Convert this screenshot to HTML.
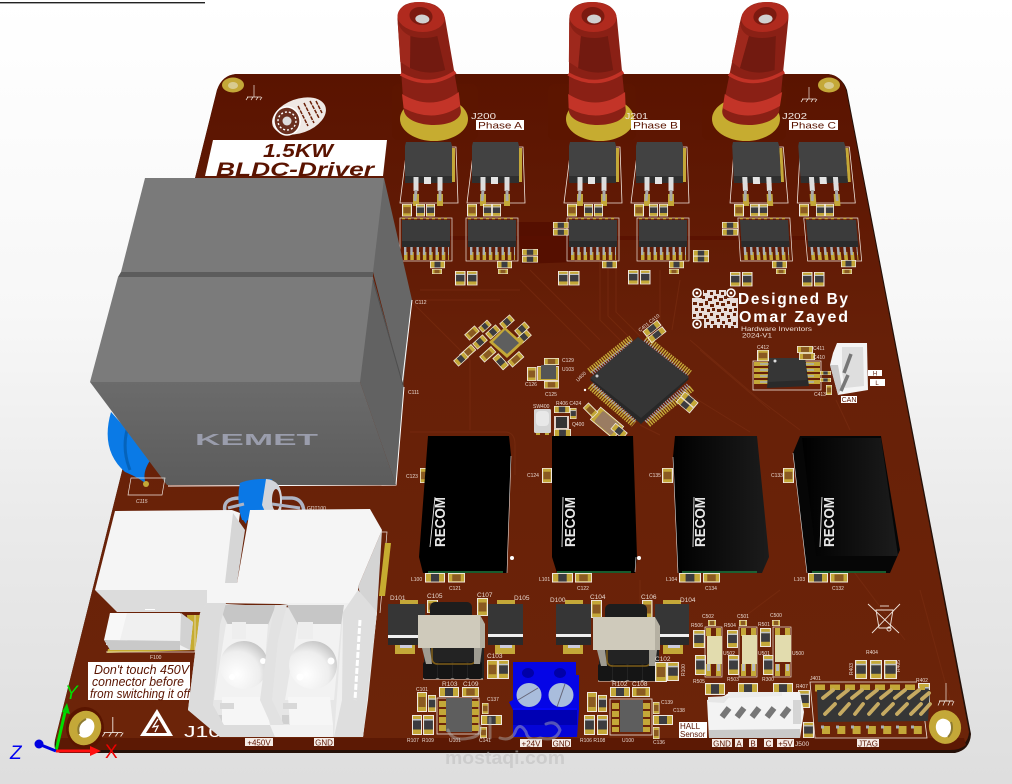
<!DOCTYPE html>
<html><head><meta charset="utf-8"><style>
html,body{margin:0;padding:0;background:#f4f4f4}
svg{display:block}
text{font-family:"Liberation Sans",sans-serif}
.s{fill:#e8d8d0;font-size:5px}
.m{fill:#e8d8d0;font-size:6.5px}
.l{fill:#5a1400;font-size:8px;text-anchor:middle}
</style></head><body>
<svg xmlns="http://www.w3.org/2000/svg" width="1012" height="784" viewBox="0 0 1012 784">
<defs>
<linearGradient id="bg" x1="0" y1="0" x2="0" y2="1"><stop offset="0" stop-color="#fff"/><stop offset=".4" stop-color="#f7f7f7"/><stop offset=".65" stop-color="#ebebeb"/><stop offset="1" stop-color="#dedede"/></linearGradient>
<linearGradient id="pcb" x1="0" y1="0" x2="0" y2="1"><stop offset="0" stop-color="#5a1300"/><stop offset=".4" stop-color="#672008"/><stop offset="1" stop-color="#6c2409"/></linearGradient>
<linearGradient id="kf" x1="0" y1="0" x2="0" y2="1"><stop offset="0" stop-color="#6b6b6b"/><stop offset="1" stop-color="#5c5c5c"/></linearGradient>
<linearGradient id="rec" x1="0" y1="0" x2="1" y2="0"><stop offset="0" stop-color="#000"/><stop offset="1" stop-color="#1c1c1c"/></linearGradient>
<radialGradient id="sph" cx=".35" cy=".7" r=".8"><stop offset="0" stop-color="#fff"/><stop offset=".6" stop-color="#eee"/><stop offset="1" stop-color="#bdbdbd"/></radialGradient>

<g id="r"><rect x="0" y="0" width="10" height="20" fill="#f0e8e0"/><rect x="1" y="1" width="8" height="18" fill="#c4a838"/><rect x="1" y="5.5" width="8" height="9" fill="#3c3c40"/><rect x="1" y="4" width="8" height="1.5" fill="#bfc4cc"/></g>
<g id="c"><rect x="0" y="0" width="10" height="20" fill="#f0e8e0"/><rect x="1" y="1" width="8" height="18" fill="#c4a838"/><rect x="1.5" y="5" width="7" height="10" fill="#8a5a22"/></g>
<g id="h"><rect x="0" y="0" width="20" height="10" fill="#f0e8e0"/><rect x="1" y="1" width="18" height="8" fill="#c4a838"/><rect x="6" y="1" width="8" height="8" fill="#3c3c40"/></g>
<g id="hc"><rect x="0" y="0" width="20" height="10" fill="#f0e8e0"/><rect x="1" y="1" width="18" height="8" fill="#c4a838"/><rect x="5" y="1.5" width="10" height="7" fill="#8a5a22"/></g>

<g id="post">
<path d="M-24,6 Q-24,-14 0,-14 Q24,-14 24,6 L29,94 C29,114 -28,114 -28,94 Z" fill="#8a2015"/>
<path d="M-13,20 Q0,24 14,20 L18,54 Q0,60 -17,52 Z" fill="#721a10"/>
<path d="M-24,6 Q-22,16 -13,20 L-17,52 L-26,46 Z" fill="#9e281c"/>
<path d="M-27,58 Q0,74 28,56" fill="none" stroke="#c23226" stroke-width="3.5"/>
<path d="M-28,78 Q0,96 29,76 L29,90 Q0,108 -28,92 Z" fill="#c33428"/>
<ellipse cx="0" cy="1" rx="23.5" ry="15" fill="#b02a1e"/>
<ellipse cx="0" cy="0" rx="11.5" ry="9" fill="#7c1a10"/>
<ellipse cx="1" cy="3" rx="7" ry="4.5" fill="#d0d0d0"/>
</g>

<g id="fet">
<polygon points="2,5 51,5 53,61 -5,61" fill="none" stroke="#efe4dc" stroke-width=".8"/>
<rect x="47" y="6" width="3" height="34" fill="#c4a838"/>
<rect x="8" y="52" width="6" height="12" fill="#c4a838"/><rect x="32" y="52" width="6" height="12" fill="#c4a838"/>
<rect x="8.5" y="41" width="5" height="8" fill="#ddd"/><rect x="32.5" y="41" width="5" height="8" fill="#ddd"/>
<path d="M11,48 L10,59 M35,48 L35,59" stroke="#aaa" stroke-width="3"/>
<path d="M1,0 H46 L47,4 V41 H0 V4 Z" fill="#424242"/>
<rect x="0" y="34" width="47" height="7" fill="#2f2f2f"/>
<rect x="8.5" y="35" width="5" height="7" fill="#ddd"/><rect x="19" y="35" width="7" height="7" fill="#e4e4e4"/><rect x="32.5" y="35" width="5" height="7" fill="#ddd"/>
</g>

<g id="so">
<rect x="-2" y="-2" width="52" height="43" fill="none" stroke="#efe4dc" stroke-width=".7"/>
<path d="M0,-1.5 H48" stroke="#c4a838" stroke-width="1.5" stroke-dasharray="3 3"/>
<path d="M2,36 H47" stroke="#c4a838" stroke-width="8" stroke-dasharray="3.5 2.8"/>
<path d="M2,31 H47" stroke="#a8b0b8" stroke-width="8" stroke-dasharray="2.4 3.9"/>
<rect x="0" y="0" width="48" height="27" fill="#3b3b3b"/>
<rect x="0" y="21" width="48" height="6" fill="#2b2b2b"/>
</g>

<g id="ind">
<rect x="12" y="0" width="42" height="18" rx="5" fill="#1d1d1d"/>
<rect x="6" y="44" width="60" height="33" fill="#232323"/>
<path d="M5,77 H65" stroke="#e8e0d8" stroke-width="1"/>
<rect x="5" y="60" width="14" height="17" rx="2" fill="#151515"/><rect x="20" y="60" width="14" height="17" rx="2" fill="#151515"/><rect x="35" y="60" width="14" height="17" rx="2" fill="#151515"/><rect x="50" y="60" width="14" height="17" rx="2" fill="#151515"/>
<path d="M14,46 V56 Q14,62 20,62 H52 Q58,62 58,55 V46" fill="none" stroke="#7c5c18" stroke-width="1.6"/>
<polygon points="4,46 12,46 14,62 8,62" fill="#9f9c92"/><polygon points="56,46 64,46 62,62 56,62" fill="#9f9c92"/>
<rect x="0" y="13" width="62" height="33" fill="#cfcabb"/>
<polygon points="62,13 67,22 67,46 62,46" fill="#b5b0a2"/>
</g>

<g id="gnd"><path d="M6,0 V12 M-1,12 H13 M0,12 L-2,15 M5,12 L3,15 M10,12 L8,15 M14,12 L12,15" stroke="#efe4dc" stroke-width=".7" fill="none"/></g>
</defs>

<rect width="1012" height="784" fill="url(#bg)"/>
<rect x="0" y="2" width="205" height="1.4" fill="#222"/>

<!-- Board -->
<path d="M60,753 L955,753 Q970,750 971,734 L847,90 Q842,76 828,74 L236,74 Q222,76 217,90 L55,740 Q53,752 60,753 Z" fill="#241008"/>
<path d="M62,749 L953,749 Q968,746 969,732 L846,90 Q841,75 828,74 L236,74 Q222,75 217,90 L56,736 Q54,749 62,749 Z" fill="url(#pcb)"/>
<path d="M60,738 L964,738 L966,745 Q960,750 950,750 L58,750 Z" fill="#5c1904"/>

<g fill="#5c1500" opacity=".9">
<rect x="392" y="84" width="86" height="56" rx="6"/><rect x="548" y="84" width="88" height="56" rx="6"/><rect x="702" y="84" width="84" height="56" rx="6"/>
</g>
<polygon points="517,222 575,222 575,262 522,264" fill="#550f00"/>
<rect x="402" y="236" width="455" height="4" fill="#5a1000" opacity=".75"/>

<g fill="none" stroke="#7b2e12" stroke-width="1" opacity=".6">
<path d="M410,432 H505 Q515,432 515,445 V475"/>
<path d="M410,300 L470,360 L470,430"/>
<path d="M520,280 L590,350"/><path d="M530,270 L600,340"/>
<path d="M600,240 V320 L625,345"/><path d="M608,240 V316 L632,340"/><path d="M616,240 V312 L640,336"/>
<path d="M660,270 V320"/><path d="M680,280 L672,330"/><path d="M690,340 L760,400 L800,430"/><path d="M700,350 L770,410"/>
<path d="M640,425 L660,435"/><path d="M690,395 L750,432"/>
<path d="M420,290 H520"/><path d="M415,300 H500"/>
<path d="M640,580 L640,610 L660,625"/><path d="M780,590 L740,620"/><path d="M845,560 L905,640"/>
<path d="M836,400 L850,430"/><path d="M920,590 L950,700"/>
</g>

<!-- Mount holes -->
<ellipse cx="233" cy="85" rx="11" ry="7.5" fill="#c4a838"/><ellipse cx="233" cy="85.500" rx="5" ry="3.500" fill="#d8cb90"/>
<ellipse cx="829" cy="85" rx="11" ry="7.500" fill="#c4a838"/><ellipse cx="829" cy="85.500" rx="5" ry="3.500" fill="#d8cb90"/>
<ellipse cx="85" cy="728" rx="19" ry="21" fill="#5a1500"/>
<ellipse cx="85" cy="728" rx="16" ry="17.500" fill="#c4a838" transform="rotate(25 85 728)"/><ellipse cx="86" cy="728" rx="8" ry="10" fill="#fff" transform="rotate(25 86 728)"/><path d="M79,734 Q76,724 86,719" stroke="#8d7a30" stroke-width="2" fill="none"/>
<ellipse cx="945" cy="727" rx="16" ry="17" fill="#c4a838" transform="rotate(-20 945 727)"/><ellipse cx="944" cy="728" rx="8" ry="9.500" fill="#fff" transform="rotate(-20 944 728)"/><path d="M951,722 Q954,731 948,737" stroke="#8d7a30" stroke-width="2" fill="none"/>

<use href="#gnd" x="248" y="85"/><use href="#gnd" x="803" y="87"/><use href="#gnd" transform="translate(105 717) scale(1.3)"/><use href="#gnd" transform="translate(940 683) scale(1 1.5)"/>

<ellipse cx="434" cy="119" rx="34" ry="22" fill="#c6ac30"/>
<ellipse cx="600" cy="119" rx="34" ry="22" fill="#c6ac30"/>
<ellipse cx="746" cy="119" rx="34" ry="22" fill="#c6ac30"/>

<!-- Logo -->
<g>
<ellipse cx="299" cy="116" rx="28" ry="17" fill="#efe8e4" transform="rotate(-20 299 116)"/>
<ellipse cx="287" cy="121" rx="13" ry="14" fill="#6a3020" stroke="#fff" stroke-width="1.5" transform="rotate(-10 287 121)"/>
<circle cx="287" cy="121" r="4.500" fill="#ddd"/>
<g stroke="#fff" stroke-width="1.400" stroke-dasharray="2 2" fill="none"><circle cx="287" cy="121" r="9"/></g>
<path d="M298,106 L308,126 M304,103 L314,123 M310,101 L319,118 M316,101 L322,113" stroke="#6a2008" stroke-width="1.500" stroke-dasharray="4 1"/>
</g>

<polygon points="213,140 387,140 383,176 205,176" fill="#fff"/>
<text x="298" y="157" font-size="18" font-weight="bold" font-style="italic" text-anchor="middle" fill="#5a1300" textLength="70" lengthAdjust="spacingAndGlyphs">1.5KW</text>
<text x="295" y="176" font-size="19" font-weight="bold" font-style="italic" text-anchor="middle" fill="#5a1300" textLength="158" lengthAdjust="spacingAndGlyphs">BLDC-Driver</text>

<text x="471" y="119" font-size="8.500" fill="#f0e6e0" textLength="25" lengthAdjust="spacingAndGlyphs">J200</text>
<rect x="476" y="120" width="48" height="10" fill="#fff"/><text x="500" y="128.500" class="l" style="font-size:9.500px" textLength="44" lengthAdjust="spacingAndGlyphs">Phase A</text>
<text x="625" y="119" font-size="8.500" fill="#f0e6e0" textLength="23" lengthAdjust="spacingAndGlyphs">J201</text>
<rect x="631" y="120" width="49" height="10" fill="#fff"/><text x="655.500" y="128.500" class="l" style="font-size:9.500px" textLength="45" lengthAdjust="spacingAndGlyphs">Phase B</text>
<text x="782" y="119" font-size="8.500" fill="#f0e6e0" textLength="25" lengthAdjust="spacingAndGlyphs">J202</text>
<rect x="789" y="120" width="49" height="10" fill="#fff"/><text x="813.500" y="128.500" class="l" style="font-size:9.500px" textLength="45" lengthAdjust="spacingAndGlyphs">Phase C</text>

<use href="#fet" transform="translate(405 142)"/>
<use href="#fet" transform="translate(472 142)"/>
<use href="#fet" transform="translate(569 142)"/>
<use href="#fet" transform="translate(636 142)"/>
<use href="#fet" transform="translate(732 142) matrix(1 0 .05 1 0 0)"/>
<use href="#fet" transform="translate(798 142) matrix(1 0 .07 1 0 0)"/>

<use href="#c" transform="translate(402 204) scale(1 .62)"/><use href="#r" transform="translate(416 204) scale(.9 .62)"/><use href="#r" transform="translate(426 204) scale(.9 .62)"/>
<use href="#c" transform="translate(467 204) scale(1 .62)"/><use href="#r" transform="translate(483 204) scale(.9 .62)"/><use href="#r" transform="translate(492 204) scale(.9 .62)"/>
<use href="#c" transform="translate(567 204) scale(1 .62)"/><use href="#r" transform="translate(584 204) scale(.9 .62)"/><use href="#r" transform="translate(594 204) scale(.9 .62)"/>
<use href="#c" transform="translate(634 204) scale(1 .62)"/><use href="#r" transform="translate(649 204) scale(.9 .62)"/><use href="#r" transform="translate(659 204) scale(.9 .62)"/>
<use href="#c" transform="translate(734 204) scale(1 .62)"/><use href="#r" transform="translate(750 204) scale(.9 .62)"/><use href="#r" transform="translate(759 204) scale(.9 .62)"/>
<use href="#c" transform="translate(799 204) scale(1 .62)"/><use href="#r" transform="translate(816 204) scale(.9 .62)"/><use href="#r" transform="translate(825 204) scale(.9 .62)"/>

<use href="#so" transform="translate(402 220)"/>
<use href="#so" transform="translate(468 220)"/>
<use href="#so" transform="translate(569 220)"/>
<use href="#so" transform="translate(639 220)"/>
<use href="#so" transform="translate(740 220) matrix(1 0 .06 1 0 0)"/>
<use href="#so" transform="translate(806 220) matrix(1.04 0 .09 1 0 0)"/>

<use href="#h" transform="translate(553 222) scale(.78 .65)"/><use href="#h" transform="translate(553 229) scale(.78 .65)"/>
<use href="#h" transform="translate(522 249) scale(.8 .65)"/><use href="#h" transform="translate(522 256) scale(.8 .65)"/>
<use href="#h" transform="translate(722 222) scale(.8 .65)"/><use href="#h" transform="translate(722 229) scale(.8 .65)"/>
<use href="#h" transform="translate(693 250) scale(.8 .62)"/><use href="#h" transform="translate(693 256) scale(.8 .62)"/>

<use href="#h" transform="translate(430 261) scale(.75 .72)"/><use href="#hc" transform="translate(432 269) scale(.5 .5)"/>
<use href="#h" transform="translate(497 261) scale(.75 .72)"/><use href="#hc" transform="translate(498 269) scale(.5 .5)"/>
<use href="#h" transform="translate(602 261) scale(.75 .72)"/>
<use href="#h" transform="translate(669 261) scale(.75 .72)"/><use href="#hc" transform="translate(669 269) scale(.5 .5)"/>
<use href="#h" transform="translate(772 261) scale(.75 .72)"/><use href="#hc" transform="translate(776 269) scale(.5 .5)"/>
<use href="#h" transform="translate(841 260) scale(.75 .72)"/><use href="#hc" transform="translate(842 269) scale(.5 .5)"/>
<use href="#r" transform="translate(455 271) scale(1.05 .72)"/><use href="#r" transform="translate(467 271) scale(1.05 .72)"/>
<use href="#r" transform="translate(558 271) scale(1.05 .72)"/><use href="#r" transform="translate(569 271) scale(1.05 .72)"/>
<use href="#r" transform="translate(628 270) scale(1.05 .72)"/><use href="#r" transform="translate(640 270) scale(1.05 .72)"/>
<use href="#r" transform="translate(730 272) scale(1.05 .72)"/><use href="#r" transform="translate(742 272) scale(1.05 .72)"/>
<use href="#r" transform="translate(802 272) scale(1.05 .72)"/><use href="#r" transform="translate(814 272) scale(1.05 .72)"/>

<text x="415" y="304" class="s">C112</text><text x="408" y="394" class="s">C111</text>
<text x="406" y="478" class="s">C123</text><text x="527" y="477" class="s">C124</text><text x="649" y="477" class="s">C135</text><text x="771" y="477" class="s">C133</text>

<!-- Small chip cluster -->
<g transform="rotate(-42 472 333)"><use href="#hc" transform="translate(465 329) scale(.7 .8)"/></g>
<g transform="rotate(-42 493 332)"><use href="#h" transform="translate(486 328) scale(.7 .8)"/></g>
<g transform="rotate(-42 486 326)"><use href="#h" transform="translate(479 322) scale(.6 .7)"/></g>
<g transform="rotate(-42 480 342)"><use href="#h" transform="translate(473 338) scale(.7 .8)"/></g>
<g transform="rotate(-42 467 353)"><use href="#hc" transform="translate(460 349) scale(.8 .8)"/></g>
<g transform="rotate(-42 461 359)"><use href="#h" transform="translate(454 355) scale(.7 .8)"/></g>
<g transform="rotate(-42 487 355)"><use href="#hc" transform="translate(480 351) scale(.8 .8)"/></g>
<g transform="rotate(48 500 361)"><use href="#h" transform="translate(493 357) scale(.8 .8)"/></g>
<g transform="rotate(-42 515 360)"><use href="#hc" transform="translate(508 356) scale(.8 .8)"/></g>
<g transform="rotate(-42 507 322)"><use href="#h" transform="translate(500 318) scale(.7 .8)"/></g>
<g transform="rotate(-42 522 329)"><use href="#h" transform="translate(515 325) scale(.7 .8)"/></g>
<g transform="rotate(-42 524 337)"><use href="#h" transform="translate(517 333) scale(.7 .8)"/></g>
<polygon points="505,327 523,343 507,358 489,342" fill="#c4a838"/>
<polygon points="505,330 519,343 507,354 493,342" fill="#5e5e5e"/>

<!-- U103 -->
<use href="#hc" transform="translate(544 358) scale(.75 .7)"/>
<use href="#hc" transform="translate(544 381) scale(.75 .75)"/>
<use href="#c" transform="translate(527 367) scale(.95 .7)"/>
<rect x="537" y="366" width="22" height="15" fill="#e8d8d0"/><rect x="538" y="367" width="20" height="13" fill="#c4a838"/><rect x="541" y="365" width="15" height="14" fill="#555"/>
<text x="562" y="362" class="s">C129</text><text x="562" y="371" class="s">U103</text><text x="525" y="386" class="s">C126</text><text x="545" y="396" class="s">C125</text>

<rect x="534" y="409" width="17" height="24" rx="1.500" fill="#d4d4d4"/><rect x="536" y="411" width="13" height="15" rx="4" fill="#e8e8e8"/><rect x="536" y="433" width="4" height="2" fill="#c4a838"/><rect x="545" y="433" width="4" height="2" fill="#c4a838"/>
<text x="533" y="408" class="s">SW400</text>
<use href="#h" transform="translate(554 406) scale(.8 .7)"/><rect x="554" y="416" width="15" height="13" fill="#e0d0c8"/><rect x="556" y="417" width="11" height="11" fill="#333"/>
<use href="#h" transform="translate(554 429) scale(.85 .8)"/><use href="#r" transform="translate(570 408) scale(.65 .55)"/>
<text x="556" y="405" class="s">R406 C424</text><text x="572" y="426" class="s">Q400</text>

<g transform="rotate(40 607 423)">
<rect x="592" y="415" width="30" height="16" fill="#c4a838" stroke="#f0e8e0" stroke-width=".8"/><rect x="596" y="416" width="22" height="14" rx="2" fill="#9a7c62"/>
</g>
<g transform="rotate(45 592 413)"><use href="#hc" transform="translate(582 408) scale(.7 .8)"/></g>
<g transform="rotate(40 620 433)"><use href="#h" transform="translate(610 428) scale(.8)"/></g>

<!-- MCU -->
<g fill="none">
<path d="M589,371 L631,338" stroke="#c4a838" stroke-width="6" stroke-dasharray="1.500 1"/>
<path d="M646,338 L690,373" stroke="#c4a838" stroke-width="6" stroke-dasharray="1.500 1"/>
<path d="M590,386 L634,424" stroke="#c4a838" stroke-width="7" stroke-dasharray="1.500 1"/>
<path d="M648,424 L692,388" stroke="#c4a838" stroke-width="7" stroke-dasharray="1.500 1"/>
<path d="M592,373 L633,341" stroke="#aab" stroke-width="4" stroke-dasharray="1 1.500"/>
<path d="M644,341 L687,376" stroke="#aab" stroke-width="4" stroke-dasharray="1 1.500"/>
<path d="M593,384 L636,421" stroke="#aab" stroke-width="5" stroke-dasharray="1 1.500"/>
<path d="M645,421 L689,385" stroke="#aab" stroke-width="5" stroke-dasharray="1 1.500"/>
</g>
<polygon points="638,337 689,379 641,424 590,380" fill="#282828"/>
<polygon points="638,337 689,377 641,418 590,378" fill="#353535"/>
<circle cx="597" cy="376" r="1.500" fill="#ccc"/><circle cx="585" cy="390" r="1.200" fill="#fff"/>
<g transform="rotate(-38 657 334)"><use href="#h" transform="translate(647 323) scale(.95 .7)"/><use href="#h" transform="translate(647 331) scale(.95 .7)"/></g>
<g transform="rotate(40 688 403)"><use href="#h" transform="translate(678 396) scale(.9 .7)"/><use href="#h" transform="translate(678 403) scale(.9 .7)"/></g>
<text x="640" y="332" class="s" transform="rotate(-38 640 332)">C401 C410</text>
<text x="578" y="382" class="s" transform="rotate(-45 578 382)">U400</text>

<!-- QR -->
<rect x="692" y="290" width="46" height="38" fill="#fff" opacity=".85"/>
<g fill="#632008">
<rect x="704" y="290" width="3" height="3"/><rect x="710" y="292" width="3" height="3"/><rect x="716" y="290" width="3" height="4"/><rect x="721" y="292" width="3" height="3"/>
<rect x="702" y="296" width="3" height="3"/><rect x="708" y="298" width="4" height="3"/><rect x="714" y="296" width="3" height="3"/><rect x="719" y="298" width="4" height="3"/><rect x="724" y="296" width="3" height="3"/>
<rect x="693" y="302" width="4" height="3"/><rect x="699" y="303" width="4" height="3"/><rect x="705" y="301" width="3" height="4"/><rect x="710" y="304" width="4" height="3"/><rect x="716" y="302" width="3" height="3"/><rect x="721" y="303" width="4" height="3"/><rect x="727" y="301" width="3" height="3"/><rect x="732" y="303" width="4" height="3"/>
<rect x="695" y="308" width="3" height="3"/><rect x="701" y="308" width="3" height="3"/><rect x="707" y="309" width="3" height="3"/><rect x="712" y="308" width="3" height="3"/><rect x="717" y="309" width="4" height="3"/><rect x="724" y="308" width="3" height="3"/><rect x="729" y="309" width="3" height="3"/><rect x="734" y="308" width="3" height="3"/>
<rect x="693" y="314" width="3" height="3"/><rect x="699" y="313" width="3" height="3"/><rect x="704" y="315" width="3" height="3"/><rect x="710" y="313" width="3" height="3"/><rect x="716" y="315" width="3" height="3"/><rect x="721" y="313" width="3" height="3"/><rect x="727" y="315" width="3" height="3"/><rect x="733" y="313" width="3" height="3"/>
<rect x="706" y="319" width="3" height="3"/><rect x="711" y="321" width="3" height="3"/><rect x="717" y="319" width="3" height="3"/><rect x="722" y="321" width="3" height="3"/><rect x="728" y="319" width="3" height="3"/><rect x="733" y="322" width="3" height="3"/>
<rect x="707" y="325" width="3" height="3"/><rect x="713" y="325" width="4" height="3"/><rect x="720" y="325" width="3" height="3"/><rect x="725" y="325" width="3" height="3"/><rect x="731" y="326" width="3" height="2"/>
</g>
<rect x="692" y="289" width="11" height="9" fill="#632008"/><circle cx="697" cy="293" r="4" fill="none" stroke="#fff" stroke-width="1.600"/><circle cx="697" cy="293" r="1.400" fill="#fff"/>
<rect x="726" y="289" width="12" height="9" fill="#632008"/><circle cx="731" cy="293" r="4" fill="none" stroke="#fff" stroke-width="1.600"/><circle cx="731" cy="293" r="1.400" fill="#fff"/>
<rect x="692" y="319" width="12" height="10" fill="#632008"/><circle cx="697" cy="324" r="4" fill="none" stroke="#fff" stroke-width="1.600"/><circle cx="697" cy="324" r="1.400" fill="#fff"/>

<text x="738" y="304" font-size="15.500" font-weight="bold" fill="#fff" textLength="110" lengthAdjust="spacing">Designed By</text>
<text x="739" y="322" font-size="16" font-weight="bold" fill="#fff" textLength="109" lengthAdjust="spacing">Omar Zayed</text>
<text x="741" y="331" font-size="6.500" fill="#efe0d8" textLength="71" lengthAdjust="spacingAndGlyphs">Hardware Inventors</text>
<text x="742" y="337.500" font-size="6.500" fill="#efe0d8" textLength="30" lengthAdjust="spacingAndGlyphs">2024-V1</text>

<!-- CAN chip -->
<rect x="753" y="361" width="68" height="29" fill="none" stroke="#efe4dc" stroke-width=".8"/>
<g stroke="#c4a838" stroke-width="4"><path d="M754,364 H768 M754,370 H768 M754,376 H768 M754,382 H768 M806,364 H820 M806,370 H820 M806,376 H820 M806,382 H820"/></g>
<g stroke="#a8b0b8" stroke-width="1.500"><path d="M760,364 H770 M760,370 H770 M760,376 H770 M760,382 H770 M804,364 H814 M804,370 H814 M804,376 H814 M804,382 H814"/></g>
<polygon points="769,358 805,358 809,386 767,388" fill="#2a2a2a"/><polygon points="769,358 805,358 807,380 768,382" fill="#363636"/>
<circle cx="775" cy="361" r="1.500" fill="#ddd"/>
<use href="#c" transform="translate(757 350) scale(1.2 .55)"/>
<use href="#hc" transform="translate(797 346) scale(.8 .7)"/><use href="#hc" transform="translate(799 353) scale(.8 .7)"/>
<use href="#h" transform="translate(820 371) scale(.55 .4)"/><use href="#h" transform="translate(820 378) scale(.55 .4)"/><use href="#c" transform="translate(826 385) scale(.6 .5)"/>
<text x="757" y="349" class="s">C412</text><text x="813" y="350" class="s">C411</text><text x="813" y="359" class="s">C410</text><text x="814" y="396" class="s">C413</text>

<polygon points="837,343 867,343 868,390 838,395 830,365 833,353" fill="#f4f4f4"/>
<polygon points="842,347 863,347 864,386 845,388 842,372" fill="#dedede"/>
<polygon points="830,365 838,395 842,388 838,365" fill="#c9c9c9"/>
<path d="M851,354 L844,373 M848,375 L841,391" stroke="#777" stroke-width="3.500"/>
<rect x="868" y="370" width="14" height="6" fill="#fff"/><rect x="870" y="379" width="15" height="7" fill="#fff"/><text x="875" y="375.500" class="l" style="font-size:6px">H</text><text x="877" y="385" class="l" style="font-size:6px">L</text>
<rect x="841" y="396" width="16" height="7" fill="#fff"/><text x="849" y="402" class="l" style="font-size:7px">CAN</text>

<use href="#c" transform="translate(420 468) scale(.7 .75)"/><use href="#c" transform="translate(542 468) scale(1 .75)"/><use href="#c" transform="translate(662 468) scale(1.1 .75)"/><use href="#c" transform="translate(783 468) scale(1.1 .75)"/>

<!-- RECOM modules -->
<polygon points="428,436 509,436 511,455 507,557 507,573 423,573 419,557" fill="#000"/>
<polygon points="552,436 633,436 637,557 635,573 557,573 552,557" fill="#000"/>
<polygon points="675,436 757,436 769,557 762,573 678,573 673,457" fill="url(#rec)"/>
<polygon points="800,436 881,436 900,550 890,573 807,573 793,453" fill="#060606"/>
<polygon points="802,438 881,438 898,556 816,556" fill="url(#rec)"/>
<path d="M511,456 L507,573 M636,557 L635,572 M673,457 L678,573 M793,453 L807,573" stroke="#ddd" stroke-width=".6" fill="none"/>
<path d="M428,572 H503 M557,572 H631 M682,572 H757 M812,572 H886" stroke="#1f7a3d" stroke-width="1.500"/>
<circle cx="512" cy="558" r="2" fill="#fff"/><circle cx="639" cy="558" r="2" fill="#fff"/>
<text transform="translate(445 547) rotate(-90)" font-size="15" font-weight="bold" fill="#e6e6e6" textLength="50" lengthAdjust="spacingAndGlyphs">RECOM</text>
<text transform="translate(575 547) rotate(-90)" font-size="15" font-weight="bold" fill="#e6e6e6" textLength="50" lengthAdjust="spacingAndGlyphs">RECOM</text>
<text transform="translate(705 547) rotate(-90)" font-size="15" font-weight="bold" fill="#e6e6e6" textLength="50" lengthAdjust="spacingAndGlyphs">RECOM</text>
<text transform="translate(834 547) rotate(-90)" font-size="15" font-weight="bold" fill="#e6e6e6" textLength="50" lengthAdjust="spacingAndGlyphs">RECOM</text>
<path d="M435,497 L430,547 M563,497 L562,547 M694,497 L693,547 M822,497 L820,547" stroke="#e6e6e6" stroke-width=".9"/>

<use href="#h" transform="translate(425 573) scale(1 .95)"/><use href="#hc" transform="translate(448 573) scale(.85 .95)"/>
<use href="#h" transform="translate(552 573) scale(1.05 .95)"/><use href="#hc" transform="translate(575 573) scale(.85 .95)"/>
<use href="#h" transform="translate(679 573) scale(1.1 .95)"/><use href="#hc" transform="translate(703 573) scale(.85 .95)"/>
<use href="#h" transform="translate(808 573) scale(1 .95)"/><use href="#hc" transform="translate(830 573) scale(.9 .95)"/>
<text x="411" y="581" class="s">L100</text><text x="539" y="581" class="s">L101</text><text x="666" y="581" class="s">L104</text><text x="794" y="581" class="s">L103</text>
<text x="449" y="590" class="s">C121</text><text x="577" y="590" class="s">C122</text><text x="705" y="590" class="s">C134</text><text x="832" y="590" class="s">C132</text>

<!-- Diodes -->
<rect x="395" y="645" width="20" height="9" fill="#c4a838"/><rect x="400" y="643" width="12" height="5" fill="#ccd"/>
<rect x="495" y="645" width="20" height="9" fill="#c4a838"/><rect x="500" y="643" width="12" height="5" fill="#ccd"/>
<rect x="563" y="645" width="20" height="9" fill="#c4a838"/><rect x="568" y="643" width="12" height="5" fill="#ccd"/>
<rect x="663" y="645" width="20" height="9" fill="#c4a838"/><rect x="668" y="643" width="12" height="5" fill="#ccd"/>
<rect x="400" y="600" width="18" height="4" fill="#c4a838"/><rect x="497" y="600" width="18" height="4" fill="#c4a838"/><rect x="565" y="600" width="18" height="4" fill="#c4a838"/><rect x="663" y="600" width="18" height="4" fill="#c4a838"/>
<rect x="388" y="604" width="37" height="41" fill="#363636"/><rect x="388" y="635" width="37" height="3" fill="#f0f0f0"/><rect x="388" y="638" width="37" height="7" fill="#2a2a2a"/>
<rect x="488" y="604" width="35" height="41" fill="#363636"/><rect x="488" y="634" width="35" height="3" fill="#f0f0f0"/><rect x="488" y="637" width="35" height="8" fill="#2a2a2a"/>
<rect x="556" y="604" width="35" height="41" fill="#363636"/><rect x="556" y="634" width="35" height="3" fill="#f0f0f0"/><rect x="556" y="637" width="35" height="8" fill="#2a2a2a"/>
<rect x="655" y="604" width="34" height="41" fill="#363636"/><rect x="655" y="634" width="34" height="3" fill="#f0f0f0"/><rect x="655" y="637" width="34" height="8" fill="#2a2a2a"/>
<use href="#c" transform="translate(427 600) scale(1.1 .65)"/><use href="#c" transform="translate(477 598) scale(1.1 .9)"/><use href="#c" transform="translate(591 600) scale(1.1 .9)"/><use href="#c" transform="translate(642 600) scale(1.05 .9)"/>
<use href="#ind" transform="translate(418 602)"/>
<use href="#ind" transform="translate(593 604)"/>
<use href="#c" transform="translate(487 660) scale(1.1 .95)"/><use href="#r" transform="translate(498 660) scale(1.1 .95)"/>
<use href="#c" transform="translate(655 662) scale(1.2 1)"/><use href="#r" transform="translate(667 662) scale(1.2 .95)"/>
<text x="390" y="600" class="m">D101</text><text x="427" y="598" class="m">C105</text><text x="477" y="597" class="m">C107</text><text x="514" y="600" class="m">D105</text><text x="550" y="602" class="m">D100</text><text x="590" y="599" class="m">C104</text><text x="641" y="599" class="m">C106</text><text x="680" y="602" class="m">D104</text><text x="487" y="658" class="m">C103</text><text x="655" y="661" class="m">C102</text>

<!-- U101 group -->
<use href="#h" transform="translate(439 687)"/><use href="#hc" transform="translate(462 687) scale(.85 1)"/>
<use href="#c" transform="translate(417 692) scale(1 1)"/><use href="#r" transform="translate(428 695) scale(.8 .85)"/>
<use href="#r" transform="translate(412 715) scale(1 1)"/><use href="#r" transform="translate(423 715) scale(1.1 1)"/>
<rect x="437" y="698" width="42" height="36" fill="none" stroke="#efe4dc" stroke-width=".8"/>
<g fill="#c4a838"><rect x="439" y="701" width="7" height="6"/><rect x="439" y="709" width="7" height="6"/><rect x="439" y="717" width="7" height="6"/><rect x="439" y="725" width="7" height="6"/><rect x="472" y="701" width="7" height="6"/><rect x="472" y="709" width="7" height="6"/><rect x="472" y="717" width="7" height="6"/><rect x="472" y="725" width="7" height="6"/></g>
<rect x="446" y="698" width="26" height="34" fill="#5e5e5e"/>
<use href="#c" transform="translate(482 703) scale(.65 .55)"/><use href="#h" transform="translate(481 715) scale(1.05 1)"/><use href="#c" transform="translate(480 727) scale(.7 .55)"/>
<text x="442" y="686" class="m">R103</text><text x="463" y="686" class="m">C109</text><text x="416" y="691" class="s">C101</text><text x="407" y="742" class="s">R107</text><text x="422" y="742" class="s">R109</text><text x="449" y="742" class="s">U101</text><text x="479" y="742" class="s">C141</text><text x="487" y="701" class="s">C137</text>

<!-- U100 group -->
<use href="#h" transform="translate(610 687)"/><use href="#hc" transform="translate(632 687) scale(.9 1)"/>
<use href="#c" transform="translate(587 692) scale(1 1)"/><use href="#r" transform="translate(598 695) scale(.9 .85)"/>
<use href="#r" transform="translate(584 715) scale(1.1 1)"/><use href="#r" transform="translate(597 715) scale(1.1 1)"/>
<rect x="610" y="699" width="42" height="36" fill="none" stroke="#efe4dc" stroke-width=".8"/>
<g fill="#c4a838"><rect x="612" y="703" width="7" height="6"/><rect x="612" y="711" width="7" height="6"/><rect x="612" y="719" width="7" height="6"/><rect x="612" y="727" width="7" height="5"/><rect x="643" y="703" width="7" height="6"/><rect x="643" y="711" width="7" height="6"/><rect x="643" y="719" width="7" height="6"/><rect x="643" y="727" width="7" height="5"/></g>
<rect x="620" y="700" width="23" height="32" fill="#5e5e5e"/>
<use href="#c" transform="translate(653 702) scale(.65 .6)"/><use href="#h" transform="translate(653 715) scale(1 1)"/><use href="#c" transform="translate(653 727) scale(.65 .6)"/>
<text x="612" y="686" class="m">R102</text><text x="632" y="686" class="m">C108</text><text x="661" y="704" class="s">C139</text><text x="673" y="712" class="s">C138</text><text x="653" y="744" class="s">C136</text><text x="580" y="742" class="s">R106 R108</text><text x="622" y="742" class="s">U100</text><text x="679" y="670" class="s" transform="rotate(-90 685 670)">R100</text>

<!-- Blue terminal -->
<polygon points="513,662 576,662 576,675 579,675 579,710 577,737 516,737 513,710 509,702 513,700" fill="#0505e6"/>
<rect x="513" y="710" width="64" height="15" fill="#0000b4"/>
<path d="M513,709 H577" stroke="#0808ff" stroke-width="1.500"/>
<rect x="513" y="725" width="64" height="12" fill="#0505d8"/>
<ellipse cx="528" cy="673" rx="6" ry="5" fill="#0000a8"/><ellipse cx="560" cy="673" rx="6" ry="5" fill="#0000a8"/>
<ellipse cx="529" cy="695" rx="12.500" ry="12" fill="#a9bddc"/><ellipse cx="561" cy="695" rx="12.500" ry="12" fill="#a9bddc"/>
<path d="M518,700 L538,688 M557,707 L565,684" stroke="#667" stroke-width="1"/>
<rect x="520" y="739" width="22" height="8" fill="#f6ece6"/><text x="531" y="746.300" class="l">+24V</text>
<rect x="552" y="739" width="19" height="8" fill="#f6ece6"/><text x="561.500" y="746.300" class="l">GND</text>

<!-- Right cluster -->
<use href="#r" transform="translate(693 630) scale(1.2 .9)"/><use href="#r" transform="translate(695 655) scale(1.1 1)"/><use href="#r" transform="translate(727 630) scale(1.1 .9)"/><use href="#r" transform="translate(728 655) scale(1.1 1)"/><use href="#r" transform="translate(760 628) scale(1.1 .95)"/><use href="#r" transform="translate(763 655) scale(1.05 1)"/>
<rect x="705" y="627" width="17" height="50" fill="none" stroke="#efe4dc" stroke-width=".7"/><rect x="739" y="627" width="18" height="50" fill="none" stroke="#efe4dc" stroke-width=".7"/><rect x="773" y="627" width="18" height="50" fill="none" stroke="#efe4dc" stroke-width=".7"/>
<g fill="#c4a838"><rect x="706" y="628" width="5" height="8"/><rect x="716" y="628" width="5" height="8"/><rect x="706" y="664" width="5" height="12"/><rect x="716" y="664" width="5" height="12"/><rect x="741" y="628" width="5" height="8"/><rect x="751" y="628" width="5" height="8"/><rect x="741" y="664" width="5" height="12"/><rect x="751" y="664" width="5" height="12"/><rect x="775" y="628" width="5" height="8"/><rect x="785" y="628" width="5" height="8"/><rect x="775" y="664" width="5" height="12"/><rect x="785" y="664" width="5" height="12"/></g>
<g fill="#bbb"><rect x="707" y="664" width="3" height="7"/><rect x="717" y="664" width="3" height="7"/><rect x="742" y="664" width="3" height="7"/><rect x="752" y="664" width="3" height="7"/><rect x="776" y="664" width="3" height="7"/><rect x="786" y="664" width="3" height="7"/></g>
<rect x="707" y="636" width="15" height="28" fill="#e2dcae"/><rect x="742" y="635" width="15" height="29" fill="#e2dcae"/><rect x="775" y="635" width="16" height="27" fill="#e2dcae"/>
<use href="#h" transform="translate(705 683) scale(1 1.2)"/><use href="#h" transform="translate(738 683) scale(1 1.2)"/><use href="#h" transform="translate(773 683) scale(1 1.2)"/>
<use href="#hc" transform="translate(708 620) scale(.4 .6)"/><use href="#hc" transform="translate(739 620) scale(.4 .6)"/><use href="#hc" transform="translate(772 620) scale(.4 .6)"/>
<text x="702" y="618" class="s">C502</text><text x="737" y="618" class="s">C501</text><text x="770" y="617" class="s">C500</text><text x="691" y="627" class="s">R506</text><text x="724" y="627" class="s">R504</text><text x="758" y="626" class="s">R501</text><text x="693" y="683" class="s">R505</text><text x="727" y="681" class="s">R503</text><text x="762" y="681" class="s">R300</text>
<text x="723" y="655" class="s">U502</text><text x="758" y="655" class="s">U501</text><text x="792" y="655" class="s">U500</text>

<use href="#r" transform="translate(798 690) scale(1.2 .9)"/><use href="#r" transform="translate(803 722) scale(1.1 .8)"/>
<text x="796" y="688" class="s">R407</text>

<!-- J500 -->
<polygon points="707,700 724,696 730,692 800,692 804,712 800,738 709,738" fill="#f3f3f3"/>
<polygon points="709,730 800,729 800,738 709,738" fill="#c9c9c9"/>
<polygon points="728,692 782,692 782,696 728,698" fill="#ececec"/>
<polygon points="708,697 730,696 724,703 708,702" fill="#e6e6e6"/>
<rect x="793" y="700" width="8" height="24" fill="#d5d5d5"/>
<g stroke="#777" stroke-width="6"><path d="M722,717 L729,708 M737,717 L744,708 M752,717 L759,708 M767,717 L774,708 M782,717 L789,708"/></g>
<rect x="679" y="722" width="28" height="16" fill="#fff"/><text x="680" y="729" font-size="8" fill="#5a1400">HALL</text><text x="680" y="737" font-size="8" fill="#5a1400">Sensor</text>
<rect x="712" y="739" width="20" height="8" fill="#f6ece6"/><text x="722" y="746.300" class="l">GND</text>
<rect x="735" y="739" width="8" height="8" fill="#f6ece6"/><text x="739" y="746.300" class="l">A</text>
<rect x="749" y="739" width="8" height="8" fill="#f6ece6"/><text x="753" y="746.300" class="l">B</text>
<rect x="764" y="739" width="9" height="8" fill="#f6ece6"/><text x="768.500" y="746.300" class="l">C</text>
<rect x="777" y="739" width="17" height="8" fill="#f6ece6"/><text x="785.500" y="746.300" class="l">+5V</text>
<text x="795" y="746" class="m">J500</text>

<!-- JTAG -->
<use href="#r" transform="translate(855 660) scale(1.2 .95)"/><use href="#r" transform="translate(870 660) scale(1.2 .95)"/><use href="#r" transform="translate(884 660) scale(1.3 .95)"/><use href="#r" transform="translate(918 683) scale(1.2 1)"/>
<text x="866" y="654" class="s">R404</text><text x="850" y="672" class="s" transform="rotate(-90 853 672)">R403</text><text x="898" y="670" class="s" transform="rotate(-90 900 670)">R405</text><text x="916" y="682" class="s">R402</text><text x="810" y="680" class="s">J401</text>
<path d="M917,682 H810 L815,738 H927 L923,706" fill="none" stroke="#efe4dc" stroke-width=".8"/>
<g stroke="#c4a838" stroke-width="7" stroke-dasharray="10 5" fill="none"><path d="M815,688 H925"/><path d="M822,730 H925" stroke-width="8" stroke-dasharray="8 7.300"/></g>
<g stroke="#a8b0b8" stroke-width="3" stroke-dasharray="3 12" fill="none"><path d="M821,727 H925"/></g>
<polygon points="817,690 930,690 928,721 818,722" fill="#363636"/>
<g stroke="#c6aa62" stroke-width="3.800" stroke-linecap="round">
<path d="M823,698 L833,690 M838,698 L848,690 M852,698 L862,690 M867,698 L877,690 M881,698 L891,690 M895,698 L905,690 M909,698 L919,690 M922,699 L929,693"/>
<path d="M825,714 L835,704 M840,714 L849,704 M855,714 L863,704 M869,714 L878,704 M883,714 L893,704 M897,714 L907,704 M911,714 L921,704 M921,714 L930,704"/>
</g>
<rect x="857" y="739" width="22" height="8" fill="#f6ece6"/><text x="868" y="746.300" class="l">JTAG</text>

<g stroke="#efe4dc" stroke-width=".9" fill="none"><path d="M868,604 L899,633 M900,604 L872,633"/><path d="M876,610 H893 L890,628 H879 Z"/><path d="M880,606 H889"/><circle cx="889" cy="629" r="2"/></g>

<!-- KEMET film caps -->
<polygon points="145,178 384,178 412,300 403,387 373,272" fill="#676767"/>
<polygon points="145,178 384,178 373,272 121,272" fill="#7a7a7a"/>
<polygon points="121,272 373,272 373,277 118,277" fill="#5c5c5c"/>
<path d="M412,300 L402,385" stroke="#fff" stroke-width="1"/>
<polygon points="118,277 373,277 404,387 396,485 360,382" fill="#626262"/>
<path d="M373,280 L403,385" stroke="#4e4e4e" stroke-width="1"/>
<polygon points="118,277 373,277 360,382 90,382" fill="#7b7b7b"/>
<path d="M404,387 L396,485 L168,486" fill="none" stroke="#fff" stroke-width="1"/>

<path d="M111,412 Q100,450 125,472 Q140,478 146,484 Q141,472 152,458 Z" fill="#0a7ae6"/>
<path d="M127,430 Q122,450 130,470" stroke="#0563bb" stroke-width="3" fill="none"/>
<polygon points="90,382 360,382 396,485 167,485" fill="url(#kf)"/>
<text x="195" y="445" font-size="16" font-weight="bold" fill="#9a9dac" textLength="123" lengthAdjust="spacingAndGlyphs">KEMET</text>
<circle cx="146" cy="484" r="3" fill="#c4a838"/>
<polygon points="131,478 128,495 162,495 165,478" fill="none" stroke="#efe4dc" stroke-width=".7"/>
<text x="136" y="503" class="s" font-style="italic">C115</text>

<!-- Toroid -->
<path d="M225,512 Q222,498 240,498 H292 Q303,499 304,512" fill="none" stroke="#aeb4c4" stroke-width="3.500"/>
<path d="M240,483 Q252,478 272,479 L270,522 L242,520 Q236,500 240,483 Z" fill="#0a78e6"/>
<path d="M266,479 Q282,480 282,500 Q282,520 270,523 L262,505 Z" fill="#d2d4da"/>
<ellipse cx="276" cy="500" rx="4" ry="11" fill="#6a2008"/>
<path d="M228,508 L244,504 M272,504 L300,508" stroke="#aeb4c4" stroke-width="3"/>
<text x="307" y="510" class="s">GDT100</text>

<!-- Warning / text panels -->
<rect x="88" y="662" width="102" height="38" fill="#fff"/>
<g font-style="italic" fill="#5a1400" font-size="12.500"><text x="94" y="674" textLength="95" lengthAdjust="spacingAndGlyphs">Don't touch 450V</text><text x="92" y="686" textLength="92" lengthAdjust="spacingAndGlyphs">connector before</text><text x="90" y="698" textLength="100" lengthAdjust="spacingAndGlyphs">from switching it off</text></g>
<polygon points="157,709 173,736 140,736" fill="#fff"/><polygon points="157,716 167,733 146,733" fill="#6a2008"/><path d="M158,719 L153,727 L158,726 L155,732" fill="none" stroke="#fff" stroke-width="1.300"/>
<text x="184" y="737" font-size="16" fill="#fff" textLength="50" lengthAdjust="spacingAndGlyphs">J101</text>
<rect x="245" y="738" width="28" height="8" fill="#f6ece6"/><text x="259" y="745.500" class="l">+450V</text>
<rect x="314" y="738" width="20" height="8" fill="#f6ece6"/><text x="324" y="745.500" class="l">GND</text>
<text x="150" y="659" class="s">F100</text>

<!-- Fuse holder and fuse -->
<polygon points="107,653 197,650 200,615 187,615 190,648 108,649" fill="#c6ac30"/>
<path d="M106,652 H195 V615" fill="none" stroke="#efe4dc" stroke-width=".7"/>
<polygon points="110,613 180,613 193,622 190,650 180,650 106,645" fill="#f0f0f0"/>
<polygon points="181,613 193,622 190,650 180,645" fill="#d2d2d2"/>
<polygon points="104,640 180,641 180,650 110,650" fill="#c9c9c9"/>
<polygon points="110,613 127,613 120,640 104,640" fill="#f8f8f8"/>
<polygon points="115,511 232,510 240,513 230,590 95,590" fill="#f5f5f5"/>
<polygon points="95,590 208,590 208,612 117,612" fill="#dcdcdc"/>
<rect x="145" y="609" width="10" height="1" fill="#fff"/>
<polygon points="233,513 245,530 237,583 225,583" fill="#d6d6d6"/>
<polygon points="239,509 250,510 246,524 241,517" fill="#0a78e6"/>
<polygon points="382,530 377,612 363,602 358,587" fill="#d4d4d4"/>
<path d="M374,532 L387,532 L380,613" fill="none" stroke="#efe4dc" stroke-width=".7"/>
<polygon points="385,543 391,543 385,596 379,596" fill="#c6ac30"/>
<polygon points="250,510 370,509 382,530 358,587 358,603 207,603 207,583 237,583" fill="#f5f5f5"/>

<!-- Terminal body -->
<path d="M207,603 L377,612 L363,737 L220,737 L188,710 L200,613 Z" fill="#e6e6e6"/>
<path d="M206,603 H358 L377,612 L368,700 L363,737 H334 L343,612 L280,604 Z" fill="#f0f0f0"/>
<path d="M218,605 H276 L268,625 H228 Z" fill="#c6c6c6"/>
<path d="M226,624 H268 L262,700 H214 Z" fill="#f2f2f2"/>
<path d="M287,605 H344 L341,625 H298 Z" fill="#c6c6c6"/>
<path d="M298,624 H341 L334,700 H285 Z" fill="#f2f2f2"/>
<rect x="232" y="622" width="14" height="17" fill="#eee"/><rect x="298" y="622" width="15" height="17" fill="#eee"/>
<circle cx="244" cy="665" r="24" fill="url(#sph)"/><circle cx="313" cy="665" r="24" fill="url(#sph)"/>
<circle cx="232" cy="677" r="3" fill="#fff"/><circle cx="300" cy="677" r="3.500" fill="#fff"/><circle cx="263" cy="661" r="3" fill="#fff"/><circle cx="331" cy="661" r="3.500" fill="#fff"/>
<path d="M222,697 H264 L270,725 H222 Z" fill="#f6f6f6"/><path d="M288,697 H330 L333,725 H290 Z" fill="#f6f6f6"/>
<rect x="220" y="703" width="14" height="6" fill="#d8d8d8"/><rect x="283" y="703" width="14" height="6" fill="#d8d8d8"/>
<rect x="215" y="715" width="7" height="9" fill="#d0d0d0"/><rect x="282" y="715" width="7" height="9" fill="#d0d0d0"/>
<path d="M200,613 L207,603 L226,603 L220,625 L213,705 L224,725 L270,725 L275,737 L220,737 L188,710 Z" fill="#dcdcdc"/>
<path d="M275,605 L287,605 L278,640 L272,700 L284,725 L272,727 L260,700 L268,640 Z" fill="#e2e2e2"/>
<path d="M343,612 L358,590 L377,612 L363,737 L334,737 L342,700 Z" fill="#dedede"/>
<path d="M360,620 L355,700" stroke="#fff" stroke-width="3" stroke-dasharray="6 2"/>
<path d="M270,725 H333 L333,737 H275 Z" fill="#f2f2f2"/>

<!-- Axis -->
<path d="M56,751 L66,708" stroke="#00e000" stroke-width="3"/><polygon points="62,712 70,714 67,703" fill="#00d000"/>
<path d="M56,751 H92" stroke="#ff1010" stroke-width="3"/><polygon points="90,746 101,751 90,756" fill="#ff1010"/>
<path d="M56,751 L41,745" stroke="#0000e0" stroke-width="3"/><circle cx="39" cy="744" r="4.500" fill="#0000e0"/>
<text x="105" y="758" font-size="19" fill="#f00000">X</text>
<text x="65" y="699" font-size="19" fill="#00e000" font-style="italic">Y</text>
<text x="10" y="759" font-size="19" fill="#0000f0" font-style="italic">Z</text>

<!-- Watermark -->
<g fill="none" stroke="#b8b8b8" stroke-width="3" opacity=".45" stroke-linecap="round">
<path d="M448,730 Q452,742 470,738 Q482,736 480,726"/><path d="M490,738 V718"/><path d="M500,738 Q512,742 516,730 Q520,722 526,732 Q528,742 540,738 Q556,742 560,730 Q556,720 546,724"/>
</g>
<text x="505" y="764" font-size="18" font-weight="bold" text-anchor="middle" fill="#bdbdbd" opacity=".55" textLength="120" lengthAdjust="spacingAndGlyphs">mostaqi.com</text>

<!-- Posts -->
<use href="#post" transform="matrix(1 0 .115 1 421 16)"/>
<use href="#post" transform="matrix(1 0 .04 1 593 16)"/>
<use href="#post" transform="matrix(1 0 -.156 1 765 16)"/>
</svg>
</body></html>
